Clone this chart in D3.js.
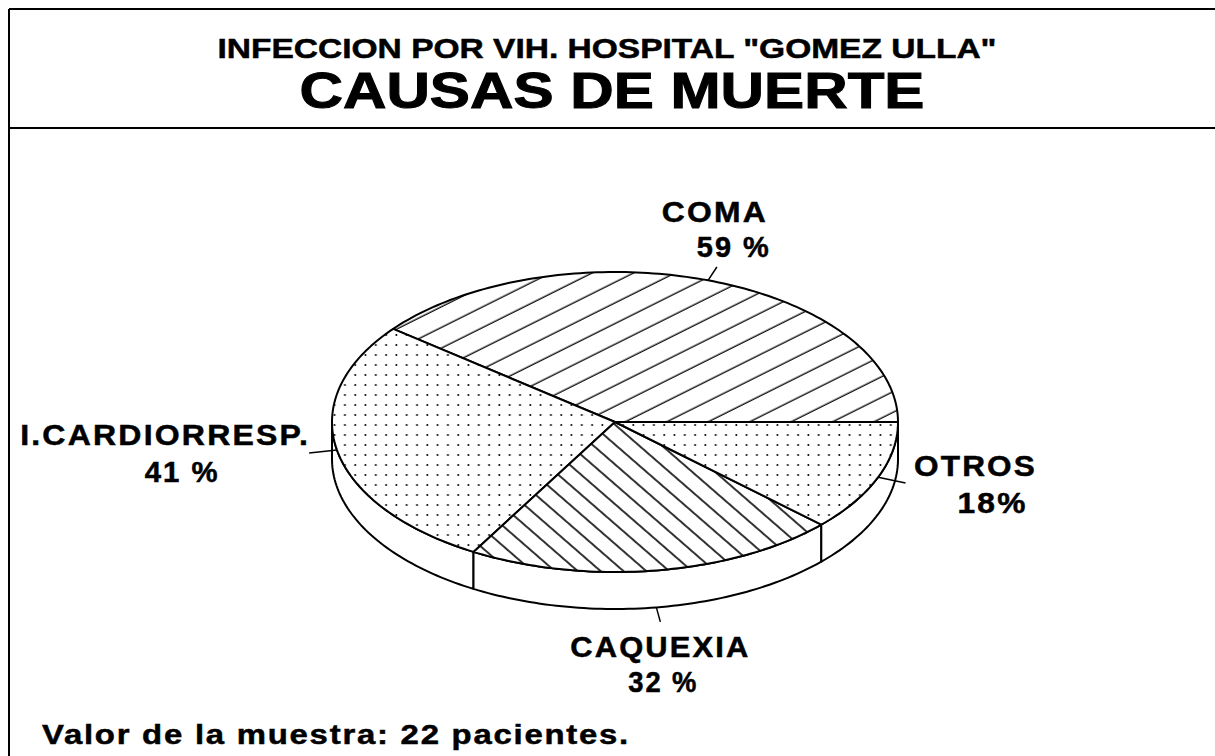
<!DOCTYPE html>
<html>
<head>
<meta charset="utf-8">
<script src="https://cdn.jsdelivr.net/npm/d3@7"></script>
<style>
  body { margin: 0; background: #fff; }
  text { font-family: "Liberation Sans", Arial, sans-serif; font-weight: bold; fill: #000; stroke: #000; stroke-width: 0.5px; }
</style>
</head>
<body>
<div id="chart"></div>
<script>
// Chart data
var causes = ['COMA', 'I.CARDIORRESP.', 'CAQUEXIA', 'OTROS'];
var values = [59, 41, 32, 18];
var pctLabels = ['59 %', '41 %', '32 %', '18%'];
var fills = ['hatchUp', 'dots', 'hatchDown', 'dots'];
var titleTop = 'INFECCION POR VIH. HOSPITAL "GOMEZ ULLA"';
var titleMain = 'CAUSAS DE MUERTE';
var footnote = 'Valor de la muestra: 22 pacientes.';

// label placement relative to leader end (layout only)
var labelLayout = [
  { len: 16, side: false, nameDx: -2, nameDy: -45, pctDx: 17, pctDy: -10, nameW: 106, pctW: 74 },
  { len: 28, side: false, nameDx: -144, nameDy: -8, pctDx: -127, pctDy: 29, nameW: 290, pctW: 75 },
  { len: 15, side: true, nameDx: 0, nameDy: 35, pctDx: 3, pctDy: 70, nameW: 180, pctW: 70 },
  { len: 28, side: false, nameDx: 70, nameDy: -7, pctDx: 87, pctDy: 30, nameW: 123, pctW: 70 }
];

var W = 1215, H = 756;
var cx = 615, cy = 422, rx = 283, ry = 150, depth = 37;

var svg = d3.select('#chart').append('svg')
    .attr('width', W)
    .attr('height', H);

// patterns
var defs = svg.append('defs');
var p1 = defs.append('pattern').attr('id', 'hatchUp')
    .attr('patternUnits', 'userSpaceOnUse')
    .attr('width', 20).attr('height', 18.5)
    .attr('patternTransform', 'rotate(-26.5)');
p1.append('rect').attr('width', 20).attr('height', 18.5).attr('fill', '#fff');
p1.append('line').attr('x1', 0).attr('x2', 20).attr('y1', 9).attr('y2', 9)
    .attr('stroke', '#000').attr('stroke-width', 1.3);

var p2 = defs.append('pattern').attr('id', 'hatchDown')
    .attr('patternUnits', 'userSpaceOnUse')
    .attr('width', 20).attr('height', 15)
    .attr('patternTransform', 'rotate(41)');
p2.append('rect').attr('width', 20).attr('height', 15).attr('fill', '#fff');
p2.append('line').attr('x1', 0).attr('x2', 20).attr('y1', 7).attr('y2', 7)
    .attr('stroke', '#000').attr('stroke-width', 1.6);

var p3 = defs.append('pattern').attr('id', 'dots')
    .attr('patternUnits', 'userSpaceOnUse')
    .attr('width', 10.3).attr('height', 10);
p3.append('rect').attr('width', 10.3).attr('height', 10).attr('fill', '#fff');
p3.append('circle').attr('cx', 5).attr('cy', 5).attr('r', 1).attr('fill', '#000');

// frame
var frame = svg.append('g').attr('stroke', '#000').attr('stroke-width', 2);
frame.append('line').attr('x1', 9).attr('x2', W).attr('y1', 9).attr('y2', 9);
frame.append('line').attr('x1', 9).attr('x2', W).attr('y1', 128).attr('y2', 128);
frame.append('line').attr('x1', 9).attr('x2', 9).attr('y1', 9).attr('y2', H);

// titles
svg.append('text').attr('x', 607).attr('y', 58)
    .attr('text-anchor', 'middle').style('font-size', '28px')
    .attr('textLength', 779).attr('lengthAdjust', 'spacingAndGlyphs')
    .text(titleTop);
svg.append('text').attr('x', 612).attr('y', 108)
    .attr('text-anchor', 'middle').style('font-size', '50px')
    .style('stroke-width', '1px')
    .attr('textLength', 625).attr('lengthAdjust', 'spacingAndGlyphs')
    .text(titleMain);

// ellipse scales
var x = d3.scaleLinear().domain([-1, 1]).range([cx - rx, cx + rx]);
var y = d3.scaleLinear().domain([-1, 1]).range([cy + ry, cy - ry]);

function pt(a, dz) {
    return [x(Math.cos(a)), y(Math.sin(a)) + (dz || 0)];
}
function arcPts(a0, a1, dz) {
    var n = Math.max(2, Math.ceil(Math.abs(a1 - a0) / 0.02));
    return d3.range(n + 1).map(function (i) { return pt(a0 + (a1 - a0) * i / n, dz); });
}

var pie = d3.pie().sort(null).value(function (d) { return d; })
    .startAngle(0).endAngle(2 * Math.PI);
var slices = pie(values);
var line = d3.line();

// side walls (front half: math angles PI..2PI)
var sides = svg.append('g');
slices.forEach(function (s) {
    var a0 = Math.max(s.startAngle, Math.PI), a1 = Math.min(s.endAngle, 2 * Math.PI);
    if (a1 <= a0) return;
    var top = arcPts(a0, a1, 0);
    var bot = arcPts(a1, a0, depth);
    sides.append('path')
        .attr('d', line(top.concat(bot)) + 'Z')
        .attr('fill', '#fff').attr('stroke', '#000')
        .attr('stroke-width', 2).attr('stroke-linejoin', 'round');
});

// top faces
var faces = svg.append('g');
slices.forEach(function (s, i) {
    var pts = [[cx, cy]].concat(arcPts(s.startAngle, s.endAngle, 0));
    faces.append('path')
        .attr('d', line(pts) + 'Z')
        .attr('fill', 'url(#' + fills[i] + ')')
        .attr('stroke', '#000').attr('stroke-width', 2)
        .attr('stroke-linejoin', 'round');
});

// labels with leader lines
var labels = svg.append('g');
slices.forEach(function (s, i) {
    var L = labelLayout[i];
    var mid = (s.startAngle + s.endAngle) / 2;
    var p0 = pt(mid, L.side ? depth : 0);
    var dir = [Math.cos(mid) * rx, -Math.sin(mid) * ry];
    var dl = Math.sqrt(dir[0] * dir[0] + dir[1] * dir[1]);
    var p1 = [p0[0] + dir[0] / dl * L.len, p0[1] + dir[1] / dl * L.len];
    labels.append('line')
        .attr('x1', p0[0]).attr('y1', p0[1]).attr('x2', p1[0]).attr('y2', p1[1])
        .attr('stroke', '#000').attr('stroke-width', 1.5);
    labels.append('text')
        .attr('x', p1[0] + L.nameDx).attr('y', p1[1] + L.nameDy)
        .attr('text-anchor', 'middle').style('font-size', '29px')
        .style('letter-spacing', '2px')
        .attr('textLength', L.nameW).attr('lengthAdjust', 'spacingAndGlyphs')
        .text(causes[i]);
    labels.append('text')
        .attr('x', p1[0] + L.pctDx).attr('y', p1[1] + L.pctDy)
        .attr('text-anchor', 'middle').style('font-size', '29px')
        .style('letter-spacing', '2px')
        .attr('textLength', L.pctW).attr('lengthAdjust', 'spacingAndGlyphs')
        .text(pctLabels[i]);
});

// footnote
svg.append('text').attr('x', 42).attr('y', 744)
    .style('font-size', '28px')
    .style('letter-spacing', '1.5px')
    .attr('textLength', 588).attr('lengthAdjust', 'spacingAndGlyphs')
    .text(footnote);
</script>
</body>
</html>
